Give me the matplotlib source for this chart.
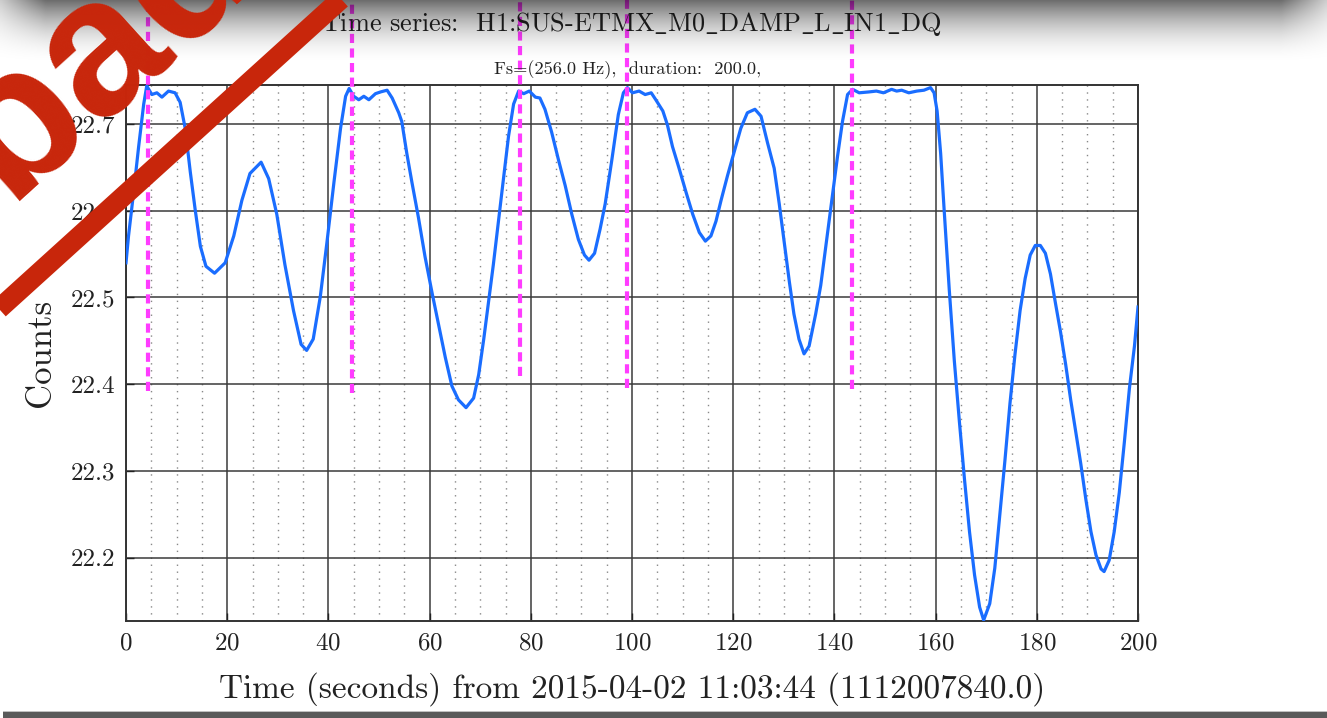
import numpy as np
import matplotlib
matplotlib.use("Agg")
import matplotlib.pyplot as plt
from matplotlib.lines import Line2D
from matplotlib.patches import Rectangle

plt.rcParams['font.family'] = 'serif'
plt.rcParams['font.serif'] = ['cmr10']
plt.rcParams['mathtext.fontset'] = 'cm'
plt.rcParams['axes.unicode_minus'] = False
plt.rcParams['axes.formatter.use_mathtext'] = True

# ---------------- data ----------------
time_s = [0.0, 0.5, 1.5, 2.5, 3.5, 4.1, 5.1, 6.1, 7.1, 8.4, 9.7, 10.7, 11.7, 12.7, 13.7,
          14.7, 15.8, 17.5, 19.6, 21.3, 22.9, 24.5, 26.7, 28.2, 29.8, 31.4, 33.1, 34.6,
          35.7, 37.0, 38.4, 39.7, 41.1, 42.4, 43.4, 44.1, 45.0, 46.0, 47.0, 48.0, 49.3,
          50.3, 51.6, 52.6, 53.9, 54.5, 55.5, 56.5, 57.8, 59.1, 60.5, 61.8, 63.1, 64.4,
          65.7, 67.2, 68.7, 69.7, 70.7, 71.6, 72.6, 73.6, 74.6, 75.6, 76.6, 77.6, 78.6,
          79.7, 80.9, 81.8, 82.8, 84.1, 85.5, 86.8, 88.1, 89.4, 90.6, 91.5, 92.6, 93.7,
          94.7, 96.0, 97.3, 98.3, 99.1, 100.1, 101.4, 102.6, 103.8, 104.7, 106.1, 107.0,
          108.0, 109.3, 110.7, 112.0, 113.3, 114.5, 115.6, 116.6, 117.6, 118.9, 120.2,
          121.5, 122.8, 124.3, 125.5, 126.8, 128.1, 129.1, 130.1, 131.1, 132.0, 133.0,
          134.0, 135.0, 136.3, 137.3, 138.3, 139.6, 140.6, 141.6, 142.6, 143.6, 144.9,
          146.8, 148.3, 149.7, 151.3, 152.3, 153.3, 154.7, 156.3, 157.7, 159.0, 159.7,
          160.3, 161.0, 161.7, 162.7, 163.7, 164.7, 165.7, 166.7, 167.7, 168.7, 169.5,
          170.7, 171.7, 172.7, 173.7, 174.7, 175.7, 176.7, 177.7, 178.7, 179.7, 180.7,
          181.7, 182.7, 183.7, 184.7, 185.7, 186.7, 187.7, 188.7, 189.7, 190.7, 191.7,
          192.7, 193.3, 194.3, 195.3, 196.3, 197.3, 198.3, 199.3, 200.0]
counts = [22.540, 22.571, 22.621, 22.674, 22.723, 22.744, 22.734, 22.736, 22.731, 22.738,
          22.736, 22.725, 22.695, 22.645, 22.600, 22.559, 22.536, 22.528, 22.540, 22.571,
          22.612, 22.643, 22.656, 22.637, 22.596, 22.538, 22.485, 22.446, 22.439, 22.452,
          22.501, 22.563, 22.633, 22.695, 22.732, 22.741, 22.732, 22.728, 22.732, 22.728,
          22.735, 22.737, 22.739, 22.730, 22.713, 22.703, 22.666, 22.633, 22.592, 22.547,
          22.505, 22.468, 22.431, 22.398, 22.382, 22.373, 22.384, 22.411, 22.452, 22.493,
          22.538, 22.588, 22.637, 22.686, 22.723, 22.738, 22.735, 22.738, 22.731, 22.730,
          22.717, 22.691, 22.658, 22.629, 22.596, 22.567, 22.549, 22.543, 22.551, 22.579,
          22.608, 22.658, 22.711, 22.736, 22.742, 22.736, 22.738, 22.734, 22.736, 22.728,
          22.715, 22.699, 22.674, 22.649, 22.621, 22.596, 22.575, 22.565, 22.571, 22.588,
          22.612, 22.641, 22.668, 22.695, 22.713, 22.717, 22.709, 22.678, 22.649, 22.608,
          22.563, 22.518, 22.481, 22.452, 22.435, 22.444, 22.481, 22.514, 22.559, 22.617,
          22.662, 22.703, 22.734, 22.740, 22.736, 22.737, 22.738, 22.736, 22.740, 22.738,
          22.739, 22.736, 22.738, 22.739, 22.742, 22.736, 22.715, 22.666, 22.600, 22.509,
          22.427, 22.357, 22.291, 22.230, 22.180, 22.143, 22.128, 22.147, 22.188, 22.250,
          22.312, 22.378, 22.435, 22.485, 22.522, 22.549, 22.560, 22.560, 22.551, 22.527,
          22.493, 22.460, 22.423, 22.382, 22.345, 22.308, 22.267, 22.230, 22.203, 22.187,
          22.184, 22.197, 22.230, 22.275, 22.333, 22.395, 22.444, 22.489]

marker_times = [4.3, 44.6, 77.8, 99.1, 143.4]
marker_bottoms = [22.392, 22.390, 22.410, 22.396, 22.394]
marker_top = 22.87

x_ticks = [0, 20, 40, 60, 80, 100, 120, 140, 160, 180, 200]
y_ticks = [22.2, 22.3, 22.4, 22.5, 22.6, 22.7]
y_tick_labels = ['22.2', '22.3', '22.4', '22.5', '22.6', '22.7']

title_text = r"Time series:  H1:SUS-ETMX$\_$M0$\_$DAMP$\_$L$\_$IN1$\_$DQ"
subtitle_text = "Fs=(256.0 Hz),  duration:  200.0,"
xlabel_text = "Time (seconds) from 2015-04-02 11:03:44 (1112007840.0)"
ylabel_text = "Counts"
stamp_text = "bad"

# ---------------- figure ----------------
W, H = 1327, 718
fig = plt.figure(figsize=(W / 100, H / 100), dpi=100)
fig.patch.set_facecolor('white')

ax = fig.add_axes([126 / W, 1 - 621 / H, (1138 - 126) / W, (621 - 85) / H])
ax.set_xlim(0, 200)
ax.set_ylim(22.127, 22.745)

ax.set_xticks(x_ticks)
ax.set_xticks(np.arange(0, 201, 5), minor=True)
ax.set_yticks(y_ticks)
ax.set_yticklabels(y_tick_labels)
ax.tick_params(axis='both', which='major', direction='in', length=6, width=1,
               labelsize=18, colors='#222222', pad=8)
ax.tick_params(axis='both', which='minor', length=0)

ax.grid(True, which='major', color='#3a3a3a', linewidth=1.1, linestyle='-')
ax.grid(True, which='minor', axis='x', color='#888888', linewidth=1.0,
        linestyle=(0, (1, 4)))
ax.set_axisbelow(True)
for s in ax.spines.values():
    s.set_color('#333333')
    s.set_linewidth(1.4)

ax.plot(time_s, counts, color='#1a6dff', linewidth=2.3, zorder=3)

for t, yb in zip(marker_times, marker_bottoms):
    ax.plot([t, t], [yb, marker_top], color='#ff3cff', linewidth=3.0,
            linestyle=(0, (2.2, 1.3)), clip_on=False, zorder=6)

ax.set_xlabel(xlabel_text, fontsize=24, color='#222222', labelpad=13)
ax.set_ylabel(ylabel_text, fontsize=25, color='#222222', labelpad=10)

fig.text(631 / W, 1 - 24 / H, title_text, fontsize=18.9, ha='center', va='center',
         color='#222222')
fig.text(628 / W, 1 - 70 / H, subtitle_text, fontsize=13.2, ha='center', va='center',
         color='#222222')

# ---- top shadow ----
sh = fig.add_axes([0, 1 - 70 / H, 1, 70 / H], zorder=8)
sh.set_axis_off()
yy = np.linspace(0, 70, 140)[:, None]
xx = np.linspace(0, W, 600)[None, :]
ay = 0.58 * np.clip(1 - yy / 66, 0, 1) ** 2
ax_edge = np.clip(xx / 45, 0, 1) * np.clip((W - xx) / 45, 0, 1)
alpha = ay * (0.35 + 0.65 * ax_edge)
rgba = np.zeros((140, 600, 4))
rgba[..., 3] = alpha
sh.imshow(rgba, aspect='auto', extent=[0, 1, 0, 1], interpolation='bilinear')
sh.set_xlim(0, 1)
sh.set_ylim(0, 1)

# ---- bottom bar ----
fig.patches.append(Rectangle((3 / W, 0), 1, 6 / H, transform=fig.transFigure,
                             facecolor='#5a5a5a', edgecolor='none', zorder=9))
fig.patches.append(Rectangle((3 / W, 6 / H), 1, 1.5 / H, transform=fig.transFigure,
                             facecolor='#c0c0c0', edgecolor='none', zorder=9))

# ---- "bad" stamp ----
red = '#c8260b'
ang = np.degrees(np.arctan(308 / 340))
fig.add_artist(Line2D([-30 / W, 380 / W], [1 - (308 + 30 * 308 / 340) / H,
                                           1 - (308 - 380 * 308 / 340) / H],
                      transform=fig.transFigure, color=red, linewidth=14.5,
                      solid_capstyle='butt', zorder=10))
fig.text(135 / W, 1 - 85 / H, stamp_text, fontsize=140, fontweight='bold',
         family='Liberation Sans', color=red, rotation=ang, rotation_mode='anchor',
         ha='center', va='baseline', zorder=10)

fig.savefig('out.png', dpi=100)
